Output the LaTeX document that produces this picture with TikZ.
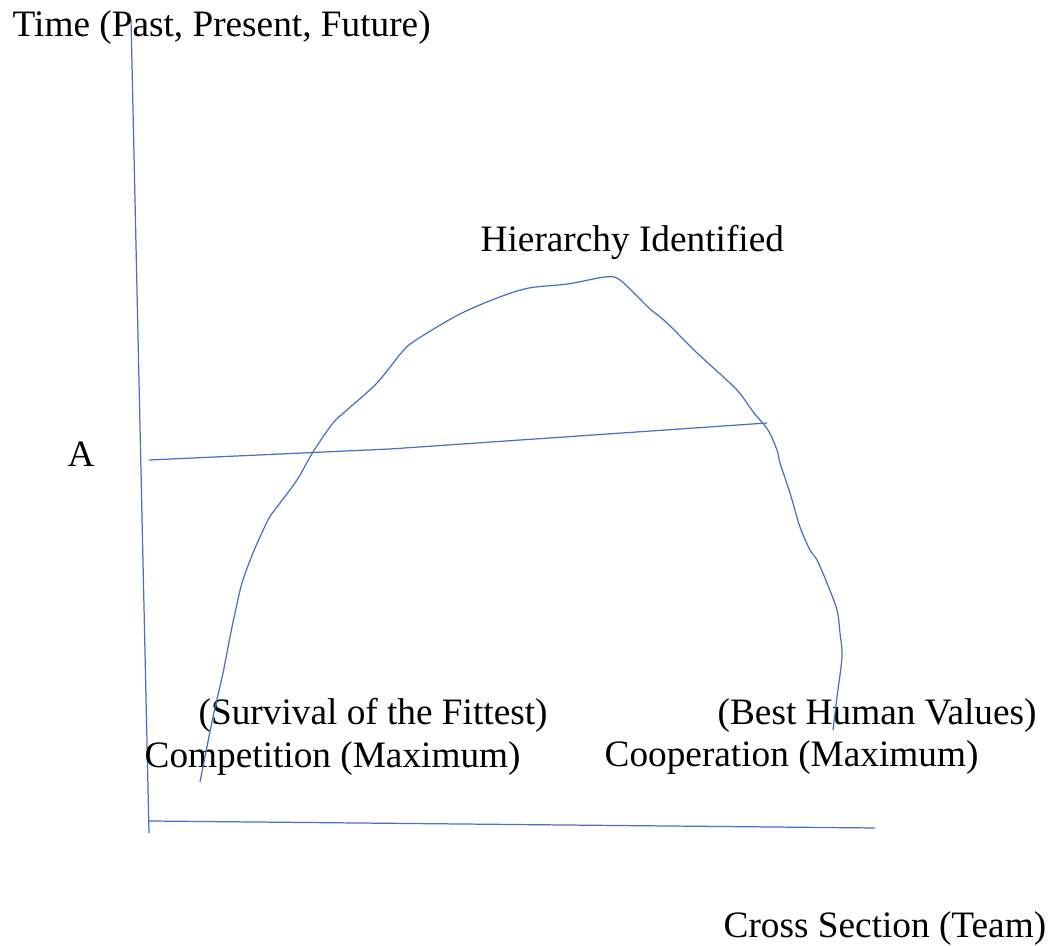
\documentclass[tikz,border=0pt]{standalone}
\usepackage{fontspec}
\setmainfont{Liberation Serif}
\usepackage{tikz}
\usetikzlibrary{positioning, calc}

\begin{document}
\begin{tikzpicture}[
        x=0.01cm, y=-0.01cm,
        stroke/.style={draw=curveblue, line width=0.35pt},
        label/.style={inner sep=0pt, anchor=base west, font=\fontsize{10.6}{12.7}\selectfont}
    ]
        \definecolor{curveblue}{RGB}{68,114,196}
        \useasboundingbox (0,0) rectangle (1056,946);

        % Axes
        \coordinate (yTop) at (131,19);
        \coordinate (yBot) at (149,833);
        \coordinate (xLeft) at (149,821);
        \coordinate (xRight) at (875,828);
        \draw[stroke] (yTop) -- (yBot);
        \draw[stroke] (xLeft) -- (xRight);

        % Labels
        \node[label] (timeLbl) at (12,37) {Time (Past, Present, Future)};
        \node[label] (teamLbl) at (723,938) {Cross Section (Team)};
        \node[label] (aLbl) at (67,467) {A};
        \node[label] (peakLbl) at (480,252) {Hierarchy Identified};
        \node[label] (survLbl) at (198,725) {(Survival of the Fittest)};
        \node[label] (compLbl) at (144,768) {Competition (Maximum)};
        \node[label] (bestLbl) at (717,725) {(Best Human Values)};
        \node[label] (coopLbl) at (604,767) {Cooperation (Maximum)};

        % Level A
        \coordinate (aStart) at (149,460);
        \coordinate (aMid) at (390,449);
        \coordinate (aEnd) at (767,423);
        \draw[stroke] (aStart) -- (aMid) -- (aEnd);

        % Hierarchy curve
        \draw[stroke] plot[smooth, tension=0.5] coordinates {
            (200,782) (213,717) (223,673) (230,637) (235,613) (242,583)
            (253,553) (268,520) (277,507) (297,480) (313,452) (333,423)
            (347,410) (377,383) (402,352) (416,340) (458,315) (497,298)
            (529,288) (568,284) (605,277) (620,280) (649,308) (666,322)
            (694,350) (708,363) (737,390) (754,413) (768,430) (777,450)
            (780,463) (790,493) (800,527) (810,550) (817,560) (827,583)
            (837,610) (840,633) (842,657) (837,697) (833,730)};

    \end{tikzpicture}
\end{document}
